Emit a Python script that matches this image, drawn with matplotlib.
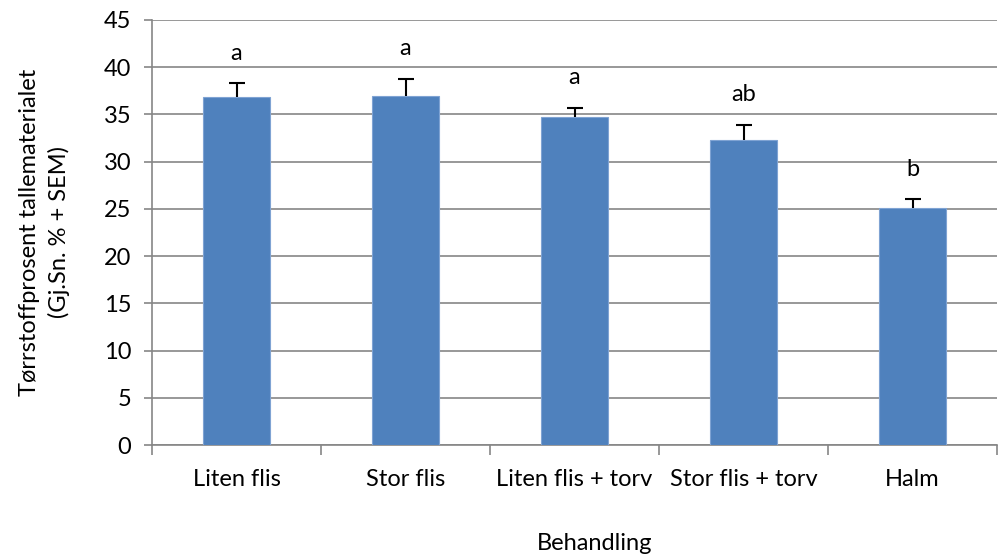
import numpy as np
import matplotlib
matplotlib.use("Agg")
import matplotlib.pyplot as plt

# data
categories = ["Liten flis", "Stor flis", "Liten flis + torv", "Stor flis + torv", "Halm"]
means = [36.9, 37.0, 34.7, 32.3, 25.1]
sems = [1.4, 1.8, 1.0, 1.6, 0.9]
letters = ["a", "a", "a", "ab", "b"]

plt.rcParams['font.family'] = ['Lato', 'DejaVu Sans']

fig = plt.figure(figsize=(9.98, 5.56), dpi=100)
ax = fig.add_axes([152 / 998, 1 - 445 / 556, 845 / 998, 425 / 556])

x = np.arange(len(categories))
ax.bar(x, means, width=0.4, color='#4F81BD', edgecolor='#7FA3D3', linewidth=0.8, zorder=3)
eb = ax.errorbar(x, means, yerr=[np.zeros(len(sems)), sems], fmt='none', ecolor='black',
                 elinewidth=1.5, capsize=5.5, capthick=1.5, zorder=4)
# only the upper cap (plus SEM)
eb[1][0].set_visible(False)

# significance letters above the error bars
for xi, m, s, lab in zip(x, means, sems, letters):
    ax.text(xi, m + s + 3.2, lab, ha='center', va='center', fontsize=17)

ax.set_xlim(-0.5, len(categories) - 0.5)
ax.set_ylim(0, 45)
ax.set_yticks(range(0, 46, 5))
ax.yaxis.grid(True, color='#868686', linewidth=1.2, zorder=0)
ax.set_axisbelow(True)

ax.set_xticks(x)
ax.set_xticklabels(categories)
ax.set_xticks(np.arange(-0.5, len(categories)), minor=True)
ax.tick_params(axis='x', which='major', length=0, pad=17, labelsize=17)
ax.tick_params(axis='x', which='minor', length=7, color='#868686', width=1.2)
ax.tick_params(axis='y', length=6, color='#868686', width=1.2, labelsize=17, pad=9)

for side in ['top', 'right']:
    ax.spines[side].set_visible(False)
for side in ['left', 'bottom']:
    ax.spines[side].set_color('#868686')
    ax.spines[side].set_linewidth(1.2)

ax.set_ylabel("Tørrstoffprosent tallematerialet\n(Gj.Sn. % + SEM)", fontsize=17, labelpad=24,
              linespacing=1.45)
fig.text(595 / 998, 1 - 543 / 556, "Behandling", ha='center', va='center', fontsize=17)

fig.savefig("out.png", dpi=100)
